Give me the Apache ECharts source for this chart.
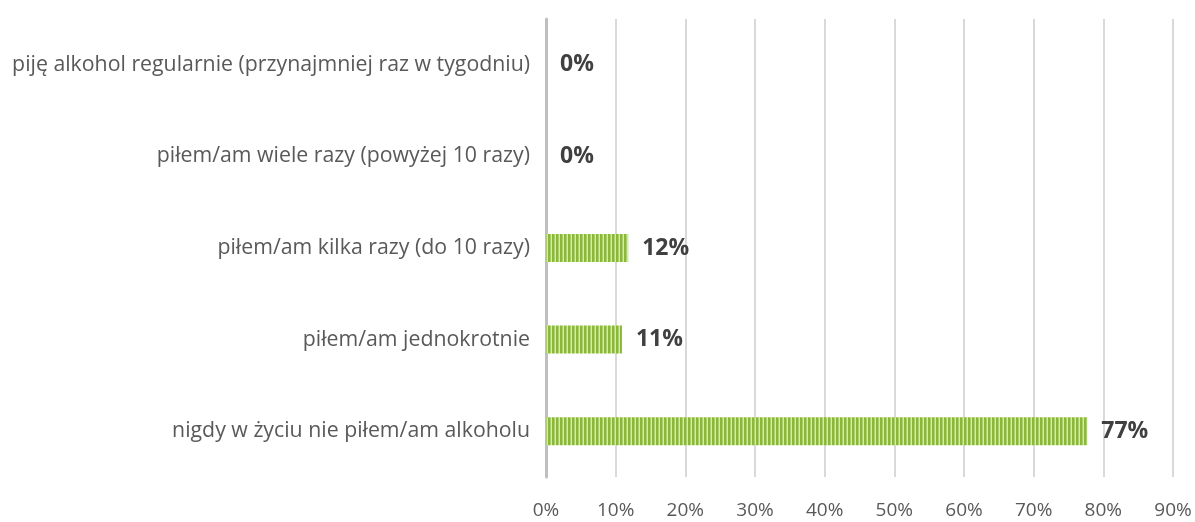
<!DOCTYPE html>
<html>
<head>
<meta charset="utf-8">
<script src="https://cdn.jsdelivr.net/npm/echarts@6/dist/echarts.min.js"></script>
<style>
  html, body { margin: 0; padding: 0; background: #fff; }
</style>
</head>
<body>
<div id="myChart" style="width: 1195px; height: 522px;"></div>
<script>
// categories bottom -> top
const categories = [
  'nigdy w życiu nie piłem/am alkoholu',
  'piłem/am jednokrotnie',
  'piłem/am kilka razy (do 10 razy)',
  'piłem/am wiele razy (powyżej 10 razy)',
  'piję alkohol regularnie (przynajmniej raz w tygodniu)'
];
const values = [77.7, 10.9, 11.8, 0, 0];
const valueLabels = ['77%', '11%', '12%', '0%', '0%'];

// striped fill like the original
function stripes() {
  const c = document.createElement('canvas');
  c.width = 4; c.height = 4;
  const ctx = c.getContext('2d');
  ctx.fillStyle = '#8cb83a';
  ctx.fillRect(0, 0, 2, 4);
  ctx.fillStyle = '#acce70';
  ctx.fillRect(2, 0, 1, 4);
  ctx.fillStyle = '#d6e8b4';
  ctx.fillRect(3, 0, 1, 4);
  return c;
}

const myChart = echarts.init(document.getElementById('myChart'));
myChart.setOption({
  animation: false,
  grid: { left: 546, right: 22, top: 19, bottom: 45 },
  xAxis: {
    type: 'value',
    min: 0,
    max: 90,
    interval: 10,
    axisLine: { show: false },
    axisTick: { show: false },
    splitLine: { lineStyle: { color: '#d9d9d9', width: 2 } },
    axisLabel: {
      formatter: '{value}%',
      color: '#595959',
      fontSize: 19,
      fontFamily: 'Open Sans',
      margin: 24
    }
  },
  yAxis: {
    type: 'category',
    data: categories,
    axisLine: { lineStyle: { color: '#bfbfbf', width: 3 } },
    axisTick: { show: false },
    axisLabel: {
      color: '#595959',
      fontSize: 21.3,
      fontFamily: 'Open Sans',
      margin: 16
    }
  },
  series: [{
    type: 'bar',
    data: values,
    barWidth: 28,
    itemStyle: { color: { image: stripes(), repeat: 'repeat' } },
    label: {
      show: true,
      position: 'right',
      distance: 14,
      color: '#404040',
      fontSize: 23,
      fontWeight: 'bold',
      fontFamily: 'Open Sans',
      formatter: p => valueLabels[p.dataIndex]
    }
  }]
});
</script>
</body>
</html>
